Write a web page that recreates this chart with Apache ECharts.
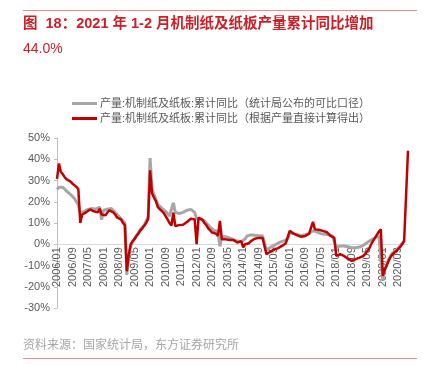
<!DOCTYPE html>
<html>
<head>
<meta charset="utf-8">
<script src="https://cdn.jsdelivr.net/npm/echarts@6/dist/echarts.min.js"></script>
<style>
    html, body { margin: 0; padding: 0; background: #fff; }
    #chart { width: 424px; height: 366px; }
</style>
</head>
<body>
<div id="chart"></div>
<script>
// monthly categories 2006/01 .. 2021/02
const months = [];
for (let y = 2006; y <= 2021; y++) {
    for (let m = 1; m <= 12; m++) {
        if (y === 2021 && m > 2) break;
        months.push(y + '/' + (m < 10 ? '0' + m : m));
    }
}

// 产量:机制纸及纸板:累计同比（统计局公布的可比口径）
const officialYoY = [
    25.8, 26.8, 27.3, 26.8, 26, 25, 24.3, 23.4, 22.5, 21.5, 20, 18.5,       // 2006
    14.8, 15, 15.5, 16, 16.4, 17, 16.8, 16.4, 16.5, 16, 17.5, 11.5,         // 2007
    16, 15.5, 16.5, 17, 16.8, 16, 15, 14, 13, 12.5, 11, 10,                 // 2008
    -14.4, -6, -1, 1, 2.5, 4, 5.5, 7, 8, 9, 11, 13,                         // 2009
    40.6, 26, 23.4, 21, 18.8, 18, 17, 16.4, 15.5, 14.8, 13.3, 12.5,         // 2010
    19.5, 15, 14.5, 14.5, 14.5, 15, 15.5, 16, 16, 16.4, 15.6, 15,           // 2011
    12, 12.2, 11.8, 11.5, 11, 10, 9, 8, 7.2, 6.5, 6, 6,                     // 2012
    -1, 3.5, 3.5, 3.5, 3.2, 3, 2.5, 2.2, 2, 1.5, 1.2, 1.2,                  // 2013
    1.5, 2.5, 3.9, 4.4, 4.4, 4.2, 4.2, 4, 4, 4.2, 4, 3.8,                   // 2014
    -3.1, -2, -1.5, -1, -0.5, 0, 0.5, 1, 1.3, 1.6, 2, 2.5,                  // 2015
    5.5, 5.5, 5, 4.7, 4.5, 4, 4, 4.2, 4.5, 4.7, 5, 5.5,                     // 2016
    6.3, 6, 5.8, 5.5, 5, 4.7, 4.7, 4.7, 4.5, 4.2, 4, 3.9,                   // 2017
    -1.6, -1, -0.8, -0.8, -0.8, -1, -1.2, -1.6, -1.6, -1.6, -1.6, -1.5,     // 2018
    -1.3, -1, -0.5, 0, 0.8, 1.5, 2, 2.5, 3.1, 3.5, 3.9, 4.7,                // 2019
    -17, -12, -9.5, -7.3, -5.5, -4.2, -3.3, -2.7, -1.8, -0.8, 0.5, 1.5,     // 2020
    null, null                                                              // 2021
];

// 产量:机制纸及纸板:累计同比（根据产量直接计算得出）
const calcYoY = [
    30.8, 38, 34, 33, 31.5, 30.5, 29.8, 29.5, 28.5, 28, 27, 26,             // 2006
    10, 14, 14.5, 15, 15.5, 16.4, 16, 15.5, 15.8, 15, 16.7, 14,             // 2007
    14, 13.6, 15, 16, 15.5, 15, 14, 12.5, 12, 11.7, 10, 9,                  // 2008
    -12.7, -5, 0, 1.5, 2.5, 4, 5, 6.5, 7.5, 8.3, 10, 12,                    // 2009
    34.8, 24, 22, 20.3, 17.5, 16.5, 16, 14.8, 14, 11.7, 10, 8.8,            // 2010
    14.8, 8.6, 8.8, 9, 8.9, 9.2, 9.7, 10.5, 11, 12, 12.5, 11.7,             // 2011
    0, 12.5, 12, 11.5, 10, 9, 7.5, 6.5, 5.5, 5.2, 5, 3.9,                   // 2012
    11, 2.3, 2.5, 2.3, 2.2, 2, 2.3, 2, 1.2, 0.8, 0.8, 1.5,                  // 2013
    -1.5, 0, -0.5, 0.5, 1.5, 2, 2.6, 2.7, 3, 3.1, 3, 2.8,                   // 2014
    -4.7, -4.2, -3.5, -3.1, -2.5, -2, -1.8, -1.2, -0.8, 0, 0.5, 0.8,        // 2015
    6.3, 5.5, 5, 4.7, 4.2, 3.6, 3.5, 3.6, 3.9, 4.2, 5, 5.5,                 // 2016
    10.5, 7, 7, 6.8, 6.5, 6.3, 6.3, 5.8, 5.2, 3.9, 3.5, 3,                  // 2017
    -5.5, -5, -4.7, -4.7, -5.5, -6.3, -6.8, -7.5, -7.8, -7.5, -7, -6.5,     // 2018
    -6.3, -5.8, -5.5, -4.5, -3.9, -2, 0, 1.6, 3, 4.5, 6, 7,                 // 2019
    -14.9, -12, -10, -7.8, -6, -4.7, -3.8, -3.2, -2.3, -1.2, 0, 1.5,        // 2020
    null, 44.0                                                              // 2021
];

const seriesNames = [
    '产量:机制纸及纸板:累计同比（统计局公布的可比口径）',
    '产量:机制纸及纸板:累计同比（根据产量直接计算得出）'
];

const yMin = -30;
const yMax = 50;

const FONT = '"Liberation Sans", Arial, "Noto Sans CJK SC", sans-serif';
const chart = echarts.init(document.getElementById('chart'));

const gridTop = 138;
const gridHeight = 170;
// x axis sits on the 0% line
const zeroOffset = -gridHeight * (0 - yMin) / (yMax - yMin);

const option = {
    animation: false,
    textStyle: { fontFamily: FONT },
    graphic: [
        { type: 'line', shape: { x1: 23, y1: 10.5, x2: 417, y2: 10.5 }, style: { stroke: '#ee8a8a', lineWidth: 1 } },
        { type: 'text', left: 23, top: 17, style: { text: '图  18：2021 年 1-2 月机制纸及纸板产量累计同比增加', fill: '#cc1f26', font: 'bold 14.5px ' + FONT } },
        { type: 'text', left: 23, top: 42, style: { text: '44.0%', fill: '#cc1f26', font: '14px ' + FONT } },
        { type: 'text', left: 23, top: 340, style: { text: '资料来源：国家统计局，东方证券研究所', fill: '#a6a6a6', font: '12px ' + FONT } },
        { type: 'line', shape: { x1: 23, y1: 358.5, x2: 417, y2: 358.5 }, style: { stroke: '#ee8a8a', lineWidth: 1 } }
    ],
    legend: {
        orient: 'vertical',
        left: 67,
        top: 93,
        itemGap: 4,
        itemWidth: 25,
        itemHeight: 3,
        icon: 'rect',
        textStyle: { fontSize: 11, color: '#595959', padding: [0, 0, 0, -2] },
        data: seriesNames
    },
    grid: { left: 57, right: 16, top: gridTop, height: gridHeight },
    xAxis: {
        type: 'category',
        data: months,
        boundaryGap: false,
        offset: zeroOffset,
        axisLine: { onZero: false, lineStyle: { color: '#d9d9d9', width: 1 } },
        axisTick: { show: false },
        axisLabel: { rotate: 90, interval: 7, fontSize: 11, color: '#595959', margin: 3 },
        splitLine: { show: false }
    },
    yAxis: {
        type: 'value',
        min: yMin,
        max: yMax,
        interval: 10,
        axisLine: { show: true, lineStyle: { color: '#bfbfbf' } },
        axisTick: { show: true, length: 3, lineStyle: { color: '#bfbfbf' } },
        axisLabel: { formatter: '{value}%', fontSize: 11, color: '#595959', margin: 7 },
        splitLine: { show: false }
    },
    series: [
        {
            name: seriesNames[0],
            type: 'line',
            data: officialYoY,
            symbol: 'none',
            color: '#a6a6a6',
            lineStyle: { width: 3, color: '#a6a6a6' },
            z: 2
        },
        {
            name: seriesNames[1],
            type: 'line',
            data: calcYoY,
            symbol: 'none',
            connectNulls: true,
            color: '#c00000',
            lineStyle: { width: 2.5, color: '#c00000' },
            z: 3
        }
    ]
};

option && chart.setOption(option);
</script>
</body>
</html>
